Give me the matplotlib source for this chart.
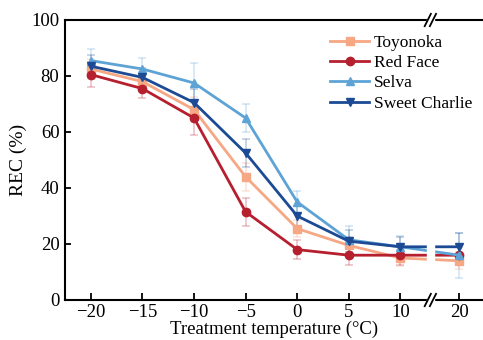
import matplotlib
matplotlib.use("Agg")
import matplotlib.pyplot as plt
import matplotlib.transforms as mtransforms
import numpy as np

plt.rcParams['font.family'] = ['Liberation Serif', 'DejaVu Serif']
plt.rcParams['mathtext.fontset'] = 'stix'

temps = [-20, -15, -10, -5, 0, 5, 10, 20]
tick_labels = ['\u221220', '\u221215', '\u221210', '\u22125', '0', '5', '10', '20']
# positions on the broken axis (20 sits just past the break)
positions = [0, 1, 2, 3, 4, 5, 6, 7.14]

toyonoka = [82.5, 78.0, 68.0, 44.0, 25.5, 19.5, 15.0, 14.0]
toyonoka_err = [3.5, 3.5, 4.5, 5.0, 3.0, 3.0, 3.0, 3.0]
red_face = [80.5, 75.5, 65.0, 31.5, 18.0, 16.0, 16.0, 16.0]
red_face_err = [4.5, 3.5, 6.0, 5.0, 3.5, 3.5, 3.5, 3.0]
selva = [85.5, 82.5, 77.5, 65.0, 35.0, 21.5, 19.0, 16.0]
selva_err = [4.0, 4.0, 7.0, 5.0, 4.0, 5.0, 4.0, 8.0]
sweet_charlie = [83.5, 79.5, 70.5, 52.5, 30.0, 21.0, 19.0, 19.0]
sweet_charlie_err = [4.0, 3.5, 5.0, 5.0, 3.5, 4.0, 3.5, 5.0]

series = [
    ('Toyonoka', toyonoka, toyonoka_err, '#f6a783', 's', 5.5),
    ('Red Face', red_face, red_face_err, '#b51f2e', 'o', 6),
    ('Selva', selva, selva_err, '#5ea3d6', '^', 6),
    ('Sweet Charlie', sweet_charlie, sweet_charlie_err, '#1c4a94', 'v', 6),
]

fig = plt.figure(figsize=(4.83, 3.40), dpi=100)
ax = fig.add_axes([65/483, 40/340, 1 - 65/483, 280/340])

for name, vals, errs, col, mk, ms in series:
    ax.errorbar(positions, vals, yerr=errs, fmt='none', ecolor=col, alpha=0.3,
                elinewidth=1.1, capsize=3, capthick=1.1, zorder=1.5)
    ax.plot(positions, vals, color=col, marker=mk, markersize=ms, lw=2.0,
            label=name, zorder=2)

ax.set_xlim(-0.5, 7.6)
ax.set_ylim(0, 100)
ax.set_xticks(positions)
ax.set_xticklabels(tick_labels)
ax.set_yticks([0, 20, 40, 60, 80, 100])
ax.tick_params(direction='in', length=5, width=1.3, labelsize=13.5, pad=4)
ax.tick_params(axis='x', pad=3)
ax.tick_params(axis='y', length=4)
for s in ['left', 'bottom', 'top']:
    ax.spines[s].set_linewidth(1.5)
ax.spines['right'].set_visible(False)

ax.set_ylabel('REC (%)', fontsize=14, labelpad=3)
ax.set_xlabel('Treatment temperature (\u00b0C)', fontsize=13.5, labelpad=0)

# axis break
brk = 6.58
ax.axvspan(brk - 0.07, brk + 0.07, ymin=-0.02, ymax=1.02, color='white', zorder=3, clip_on=False)
trans = mtransforms.blended_transform_factory(ax.transData, ax.transAxes)
for yb in (0.0, 1.0):
    for dx in (-0.05, 0.05):
        ax.plot([brk + dx - 0.06, brk + dx + 0.06], [yb - 0.022, yb + 0.022], color='black',
                lw=1.3, transform=trans, clip_on=False, zorder=4)

leg = ax.legend(loc='upper left', bbox_to_anchor=(0.608, 0.985), frameon=False, fontsize=12.5,
                handlelength=2.3, handletextpad=0.25, labelspacing=0.24, borderaxespad=0.2)

fig.savefig('out.png', dpi=100)
